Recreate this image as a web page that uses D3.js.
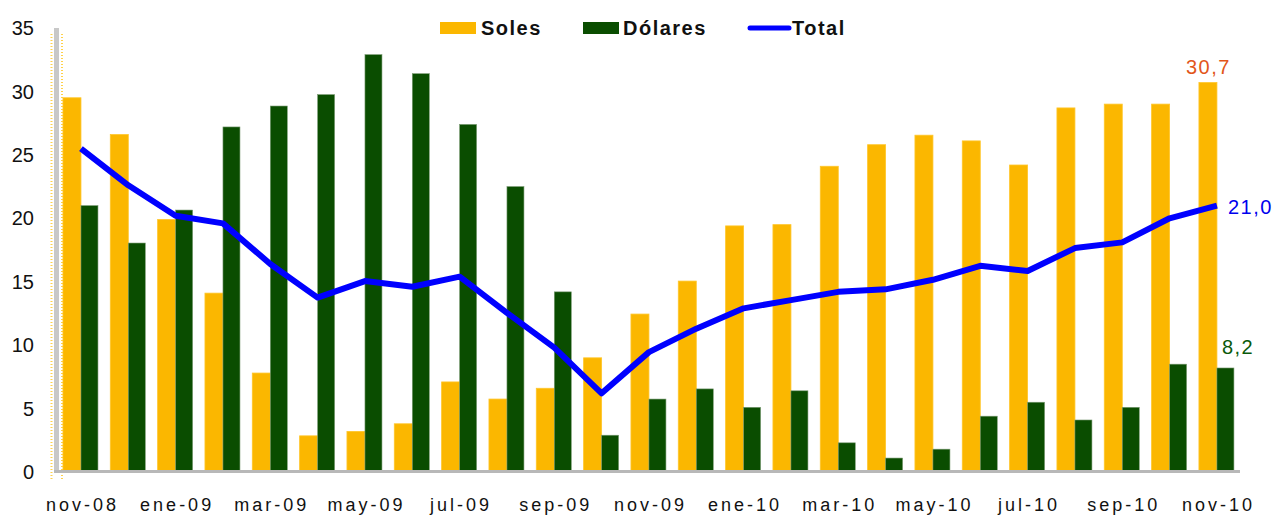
<!DOCTYPE html>
<html>
<head>
<meta charset="utf-8">
<script src="https://cdn.jsdelivr.net/npm/d3@7"></script>
<style>
  body { margin: 0; background: #fff; }
  svg text { font-family: "Liberation Sans", Arial, sans-serif; }
</style>
</head>
<body>
<svg id="chart" width="1274" height="515"></svg>
<script>
// Months shown on the x axis (one every two months is labelled)
const months = ['nov-08', 'dic-08', 'ene-09', 'feb-09', 'mar-09', 'abr-09', 'may-09', 'jun-09',
    'jul-09', 'ago-09', 'sep-09', 'oct-09', 'nov-09', 'dic-09', 'ene-10', 'feb-10', 'mar-10',
    'abr-10', 'may-10', 'jun-10', 'jul-10', 'ago-10', 'sep-10', 'oct-10', 'nov-10'];

// Series values
const soles = [29.5, 26.6, 19.9, 14.1, 7.8, 2.85, 3.2, 3.8, 7.1, 5.75, 6.6, 9.0, 12.45,
    15.05, 19.4, 19.5, 24.1, 25.8, 26.55, 26.1, 24.2, 28.7, 29.0, 29.0, 30.7];
const dolares = [21.0, 18.05, 20.65, 27.2, 28.85, 29.75, 32.9, 31.4, 27.4, 22.5, 14.2, 2.9,
    5.75, 6.55, 5.1, 6.4, 2.3, 1.1, 1.8, 4.4, 5.5, 4.1, 5.1, 8.5, 8.2];
const total = [25.5, 22.6, 20.2, 19.6, 16.4, 13.75, 15.05, 14.6, 15.4, 12.55, 9.8, 6.2, 9.45,
    11.3, 12.9, 13.55, 14.2, 14.4, 15.15, 16.25, 15.85, 17.65, 18.1, 20.0, 21.0];

const yTicks = [0, 5, 10, 15, 20, 25, 30, 35];
const xLabels = months.filter((m, i) => i % 2 === 0);

const svg = d3.select("#chart");

// Scales
const x = d3.scaleBand()
    .domain(months)
    .range([57.3, 1240.6]);
const y = d3.scaleLinear()
    .domain([0, 35])
    .range([472, 28]);
const cx = m => x(m) + x.bandwidth() / 2;

// Dotted selection marks around the value axis
[51.5, 62].forEach(px => {
    svg.append("line")
        .attr("x1", px).attr("x2", px)
        .attr("y1", 34).attr("y2", 480)
        .attr("stroke", "#ffd24a")
        .attr("stroke-width", 2)
        .attr("stroke-dasharray", "1,2");
});

// Bars: Soles
svg.selectAll(".soles")
    .data(soles)
    .enter()
    .append("rect")
    .attr("class", "soles")
    .attr("x", (d, i) => cx(months[i]) - 18)
    .attr("width", 18)
    .attr("y", d => y(d))
    .attr("height", d => y(0) - y(d))
    .attr("fill", "#fbb700")
    .attr("stroke", "#ffc62a")
    .attr("stroke-width", 0.8);

// Bars: Dólares
svg.selectAll(".dolares")
    .data(dolares)
    .enter()
    .append("rect")
    .attr("class", "dolares")
    .attr("x", (d, i) => cx(months[i]))
    .attr("width", 17)
    .attr("y", d => y(d))
    .attr("height", d => y(0) - y(d))
    .attr("fill", "#0a4d00")
    .attr("stroke", "#7a9a72")
    .attr("stroke-width", 0.6);

// Axis lines
svg.append("line")
    .attr("x1", 56.5).attr("x2", 56.5)
    .attr("y1", y(35)).attr("y2", y(0) + 1)
    .attr("stroke", "#c8c8c8")
    .attr("stroke-width", 5);
svg.append("line")
    .attr("x1", 54).attr("x2", 1240)
    .attr("y1", y(0) - 0.5).attr("y2", y(0) - 0.5)
    .attr("stroke", "#b8b8b8")
    .attr("stroke-width", 3);

// Total line
const line = d3.line()
    .x((d, i) => cx(months[i]))
    .y(d => y(d));
svg.append("path")
    .datum(total)
    .attr("d", line)
    .attr("fill", "none")
    .attr("stroke", "#0000ff")
    .attr("stroke-width", 6)
    .attr("stroke-linejoin", "round");

// Y tick labels
svg.selectAll(".ytick")
    .data(yTicks)
    .enter()
    .append("text")
    .attr("class", "ytick")
    .attr("x", 34)
    .attr("y", d => y(d))
    .attr("dy", "0.36em")
    .attr("text-anchor", "end")
    .attr("font-size", 20)
    .attr("fill", "#111")
    .text(d => d);

// X tick labels
svg.selectAll(".xtick")
    .data(xLabels)
    .enter()
    .append("text")
    .attr("class", "xtick")
    .attr("x", d => cx(d) + 1.5)
    .attr("y", 511)
    .attr("text-anchor", "middle")
    .attr("font-size", 18)
    .attr("letter-spacing", 3)
    .attr("fill", "#111")
    .text(d => d);

// Legend
const legend = svg.append("g").attr("font-size", 20).attr("font-weight", "bold")
    .attr("letter-spacing", 1.5).attr("fill", "#111");
legend.append("rect").attr("x", 440).attr("y", 22).attr("width", 36).attr("height", 12).attr("fill", "#fbb700");
legend.append("text").attr("x", 481).attr("y", 35).text("Soles");
legend.append("rect").attr("x", 583).attr("y", 22).attr("width", 36).attr("height", 12).attr("fill", "#0a4d00");
legend.append("text").attr("x", 623).attr("y", 35).text("Dólares");
legend.append("line").attr("x1", 750).attr("x2", 789).attr("y1", 28).attr("y2", 28)
    .attr("stroke", "#0000ff").attr("stroke-width", 5).attr("stroke-linecap", "round");
legend.append("text").attr("x", 792).attr("y", 35).text("Total");

// Last-value annotations
const last = months.length - 1;
const fmt = v => d3.format(".1f")(v).replace(".", ",");
svg.append("text")
    .attr("x", cx(months[last]) - 31).attr("y", y(soles[last]) - 9)
    .attr("font-size", 20).attr("letter-spacing", 1.5).attr("fill", "#e2561a")
    .text(fmt(soles[last]));
svg.append("text")
    .attr("x", cx(months[last]) + 11).attr("y", y(total[last]) + 8)
    .attr("font-size", 20).attr("letter-spacing", 1.5).attr("fill", "#0000ee")
    .text(fmt(total[last]));
svg.append("text")
    .attr("x", cx(months[last]) + 5).attr("y", y(dolares[last]) - 14)
    .attr("font-size", 20).attr("letter-spacing", 1.5).attr("fill", "#0a5a0a")
    .text(fmt(dolares[last]));
</script>
</body>
</html>
